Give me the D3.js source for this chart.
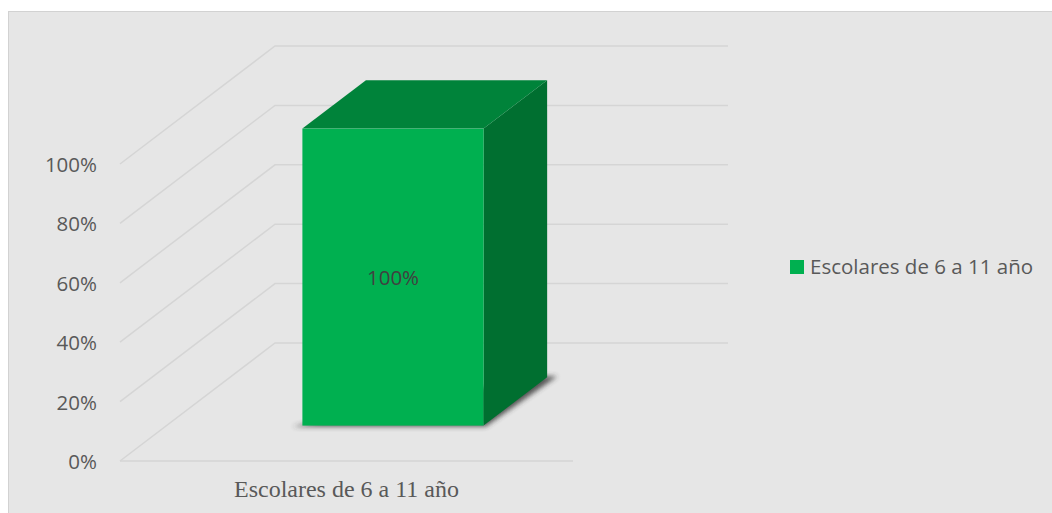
<!DOCTYPE html>
<html>
<head>
<meta charset="utf-8">
<script src="https://cdn.jsdelivr.net/npm/d3@7"></script>
<style>
  html, body { margin: 0; padding: 0; background: #ffffff; }
  svg { display: block; }
</style>
</head>
<body>
<svg id="grafico" width="1052" height="513"></svg>
<script>
// Datos
const categorias = ["Escolares de 6 a 11 año"];
const valores = [1.0];
const serieNombre = "Escolares de 6 a 11 año";
const ticksY = [0, 0.2, 0.4, 0.6, 0.8, 1.0];

// Geometría del gráfico 3D
const ORIGEN_X = 120, ORIGEN_Y = 461;
const ANCHO_SUELO = 453;
const PROF_DX = 155, PROF_DY = -118;
const Z_FRENTE = 0.3, Z_FONDO = 0.71;

const COLORES = {
  frente: "#00b050",
  arriba: "#00833a",
  lado: "#006f30",
  grid: "#d5d5d5",
  texto: "#595959",
};

const FUENTE = "'Open Sans', sans-serif";
const TAM = "20.5px";

const svg = d3.select("#grafico");

// fondo del área del gráfico
svg.append("rect")
  .attr("x", 8.5).attr("y", 11.5)
  .attr("width", 1060).attr("height", 520)
  .attr("fill", "#e6e6e6")
  .attr("stroke", "#d2d2d2")
  .attr("stroke-width", 1);

const y = d3.scaleLinear().domain([0, 1]).range([0, 297]);
const x = d3.scaleBand().domain(categorias).range([0, ANCHO_SUELO])
  .paddingInner(0).paddingOuter(0.75);

// proyección oblicua: (x, valor, profundidad) -> pantalla
function proj(px, py, z) {
  return [ORIGEN_X + px + z * PROF_DX, ORIGEN_Y - py + z * PROF_DY];
}

const linea = d3.line();

// filtro de sombra
const defs = svg.append("defs");
defs.append("filter").attr("id", "sombra")
  .attr("x", "-20%").attr("y", "-20%").attr("width", "140%").attr("height", "140%")
  .append("feGaussianBlur").attr("stdDeviation", 2.5);

// =======================================================
// GRID (pared lateral + pared del fondo)
// =======================================================
const gGrid = svg.append("g").attr("class", "grid");

ticksY.forEach(t => {
  gGrid.append("path")
    .attr("d", linea([proj(0, y(t), 0), proj(0, y(t), 1), proj(ANCHO_SUELO, y(t), 1)]))
    .attr("fill", "none")
    .attr("stroke", COLORES.grid)
    .attr("stroke-width", 1.5);
});

// borde frontal del suelo
gGrid.append("path")
  .attr("d", linea([proj(0, 0, 0), proj(ANCHO_SUELO, 0, 0)]))
  .attr("fill", "none")
  .attr("stroke", COLORES.grid)
  .attr("stroke-width", 1.5);

// etiquetas eje Y
svg.append("g").attr("class", "eje-y")
  .selectAll("text")
  .data(ticksY)
  .enter()
  .append("text")
  .attr("x", ORIGEN_X - 23)
  .attr("y", d => ORIGEN_Y - y(d) + 8)
  .attr("text-anchor", "end")
  .style("font-family", FUENTE)
  .style("font-size", TAM)
  .attr("fill", COLORES.texto)
  .text(d => Math.round(d * 100) + "%");

// =======================================================
// BARRAS
// =======================================================
const gBarras = svg.append("g").attr("class", "barras");

categorias.forEach((cat, i) => {
  const x0 = x(cat), x1 = x(cat) + x.bandwidth();
  const h = y(valores[i]);

  // sombra en la base
  gBarras.append("path")
    .attr("d", linea([
      proj(x0 - 10, -1, Z_FRENTE), proj(x1 + 2, -1, Z_FRENTE),
      proj(x1 + 10, 1, Z_FONDO), proj(x1 - 10, 1, Z_FONDO),
    ]) + "Z")
    .attr("fill", "#333")
    .attr("opacity", 0.8)
    .attr("filter", "url(#sombra)");

  // cara lateral
  gBarras.append("path")
    .attr("d", linea([
      proj(x1, 0, Z_FRENTE), proj(x1, 0, Z_FONDO),
      proj(x1, h, Z_FONDO), proj(x1, h, Z_FRENTE),
    ]) + "Z")
    .attr("fill", COLORES.lado);

  // cara superior
  gBarras.append("path")
    .attr("d", linea([
      proj(x0, h, Z_FRENTE), proj(x1, h, Z_FRENTE),
      proj(x1, h, Z_FONDO), proj(x0, h, Z_FONDO),
    ]) + "Z")
    .attr("fill", COLORES.arriba);

  // cara frontal
  const [fx0, fyTop] = proj(x0, h, Z_FRENTE);
  const [fx1, fyBase] = proj(x1, 0, Z_FRENTE);
  gBarras.append("rect")
    .attr("x", fx0).attr("y", fyTop)
    .attr("width", fx1 - fx0).attr("height", fyBase - fyTop)
    .attr("fill", COLORES.frente);

  // etiqueta de valor
  gBarras.append("text")
    .attr("x", (fx0 + fx1) / 2)
    .attr("y", (fyTop + fyBase) / 2 + 7.5)
    .attr("text-anchor", "middle")
    .style("font-family", FUENTE)
    .style("font-size", TAM)
    .attr("fill", "#404040")
    .text(Math.round(valores[i] * 100) + "%");

  // etiqueta de categoría (eje X)
  const [cx] = proj(x0 + x.bandwidth() / 2, 0, 0);
  svg.append("text")
    .attr("x", cx)
    .attr("y", 497)
    .attr("text-anchor", "middle")
    .style("font-family", "'Liberation Serif', 'Times New Roman', serif")
    .style("font-size", "24px")
    .attr("fill", COLORES.texto)
    .text(cat);
});

// =======================================================
// LEYENDA
// =======================================================
const gLey = svg.append("g")
  .attr("class", "leyenda")
  .attr("transform", "translate(790,260)");

gLey.append("rect")
  .attr("x", 0).attr("y", 0)
  .attr("width", 14).attr("height", 14)
  .attr("fill", COLORES.frente);

gLey.append("text")
  .attr("x", 20)
  .attr("y", 14)
  .style("font-family", FUENTE)
  .style("font-size", TAM)
  .attr("fill", COLORES.texto)
  .text(serieNombre);
</script>
</body>
</html>
